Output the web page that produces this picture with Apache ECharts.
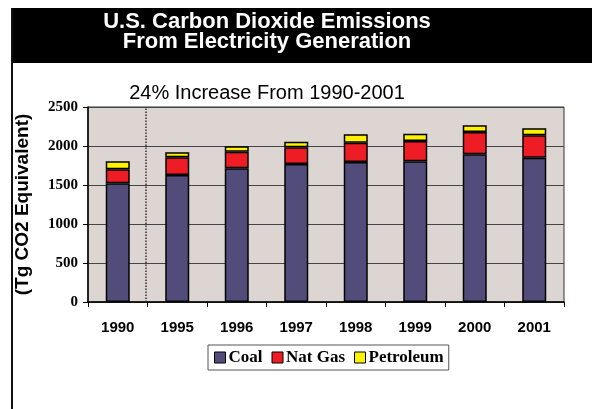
<!DOCTYPE html>
<html>
<head>
<meta charset="utf-8">
<script src="https://cdn.jsdelivr.net/npm/echarts@6/dist/echarts.min.js"></script>
<style>
  html, body { margin: 0; padding: 0; background: #fff; }
  #chart { width: 592px; height: 409px; }
</style>
</head>
<body>
<div id="chart"></div>
<script>
// Emissions by fuel, Tg CO2 equivalent
const years = ['1990', '1995', '1996', '1997', '1998', '1999', '2000', '2001'];
const coal = [1522, 1628, 1714, 1769, 1795, 1804, 1893, 1850];
const natGas = [179, 227, 213, 214, 248, 260, 286, 287];
const petroleum = [103, 64, 69, 72, 107, 94, 86, 89];
const yTicks = [0, 500, 1000, 1500, 2000, 2500];

const titleLines = ['U.S. Carbon Dioxide Emissions', 'From Electricity Generation'];
const subtitle = '24% Increase From 1990-2001';
const yName = '(Tg CO2 Equivalent)';
// separator between the base year and the later years (in category units)
const dividerAt = 0.97;

const chart = echarts.init(document.getElementById('chart'), null, { renderer: 'canvas' });

const barStyle = (color) => ({ color: color, borderColor: '#000', borderWidth: 1.5 });

chart.setOption({
  backgroundColor: '#ffffff',
  animation: false,
  graphic: [
    { type: 'rect', shape: { x: 11, y: 8, width: 581, height: 55 }, style: { fill: '#000' }, z: 0 },
    { type: 'rect', shape: { x: 11, y: 8, width: 2, height: 401 }, style: { fill: '#111' }, z: 0 },
    { type: 'text', x: 267, y: 21.5, z: 1, style: { text: titleLines[0], fill: '#fff', font: 'bold 22px "Liberation Sans", Arial, sans-serif', textAlign: 'center', textVerticalAlign: 'middle' } },
    { type: 'text', x: 267, y: 42, z: 1, style: { text: titleLines[1], fill: '#fff', font: 'bold 22px "Liberation Sans", Arial, sans-serif', textAlign: 'center', textVerticalAlign: 'middle' } },
    { type: 'text', x: 267, y: 93, z: 1, style: { text: subtitle, fill: '#000', font: '20px "Liberation Sans", Arial, sans-serif', textAlign: 'center', textVerticalAlign: 'middle' } }
  ],
  grid: {
    left: 88, right: 28, top: 107, bottom: 107,
    show: true, backgroundColor: '#DCD5D2', borderColor: '#333', borderWidth: 1
  },
  legend: {
    data: ['Coal', 'Nat Gas', 'Petroleum'],
    left: 208, top: 345,
    padding: [4, 5, 4, 6],
    itemGap: 9,
    itemWidth: 11, itemHeight: 11,
    borderColor: '#555', borderWidth: 1,
    icon: 'rect',
    itemStyle: { borderColor: '#000', borderWidth: 1 },
    textStyle: { fontFamily: '"Liberation Serif", "Times New Roman", serif', fontWeight: 'bold', fontSize: 17, color: '#000', padding: [0, 0, 0, -2] }
  },
  xAxis: [
    {
      type: 'category', data: years,
      axisLine: { lineStyle: { color: '#000', width: 1.5 } },
      axisTick: { show: true, length: 5, lineStyle: { color: '#000' } },
      axisLabel: { margin: 18, color: '#000', fontFamily: '"Liberation Sans", Arial, sans-serif', fontWeight: 'bold', fontSize: 15 }
    },
    { type: 'value', min: 0, max: years.length, show: false }
  ],
  yAxis: {
    type: 'value', min: yTicks[0], max: yTicks[yTicks.length - 1], interval: 500,
    name: yName, nameLocation: 'middle', nameGap: 56, nameRotate: 90,
    nameTextStyle: { color: '#000', fontFamily: '"Liberation Sans", Arial, sans-serif', fontWeight: 'bold', fontSize: 19 },
    axisLine: { show: true, lineStyle: { color: '#000', width: 1.5 } },
    axisTick: { show: true, length: 5, lineStyle: { color: '#000' } },
    axisLabel: {
      margin: 10, color: '#000', fontFamily: '"Liberation Serif", "Times New Roman", serif', fontWeight: 'bold', fontSize: 15,
      formatter: (v) => String(v)
    },
    splitLine: { show: true, lineStyle: { color: '#444', width: 1 } }
  },
  series: [
    { name: 'Coal', type: 'bar', stack: 'fuel', barWidth: 24, data: coal, itemStyle: barStyle('#524C7A') },
    { name: 'Nat Gas', type: 'bar', stack: 'fuel', barWidth: 24, data: natGas, itemStyle: barStyle('#EE1C24') },
    { name: 'Petroleum', type: 'bar', stack: 'fuel', barWidth: 24, data: petroleum, itemStyle: barStyle('#FFF200') },
    {
      name: 'divider', type: 'line', xAxisIndex: 1, data: [], silent: true,
      markLine: {
        silent: true, symbol: 'none', label: { show: false },
        lineStyle: { type: 'dotted', color: '#333', width: 1.5 },
        data: [{ xAxis: dividerAt }]
      }
    }
  ]
});
</script>
</body>
</html>
